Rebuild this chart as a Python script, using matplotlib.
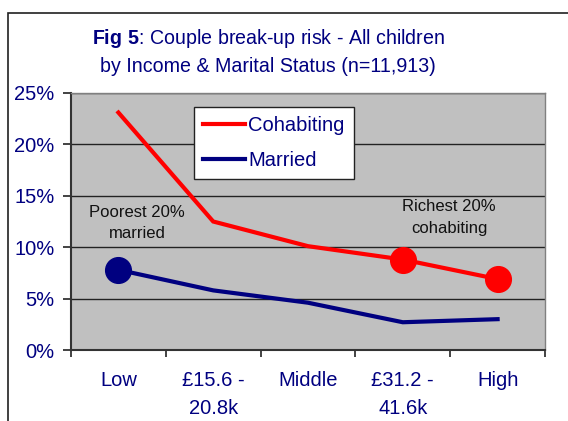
import numpy as np
import matplotlib
matplotlib.use("Agg")
from matplotlib import pyplot as plt
from matplotlib.patches import Rectangle

plt.rcParams['font.family'] = ['Liberation Sans', 'DejaVu Sans']
plt.rcParams['mathtext.fontset'] = 'custom'
plt.rcParams['mathtext.bf'] = 'Liberation Sans:bold'
plt.rcParams['mathtext.rm'] = 'Liberation Sans'

categories = ["Low", "£15.6 -\n20.8k", "Middle", "£31.2 -\n41.6k", "High"]
cohabiting = [23.1, 12.5, 10.1, 8.8, 6.9]
married = [7.8, 5.8, 4.6, 2.7, 3.0]
y_ticks = [0, 5, 10, 15, 20, 25]

navy = "#000080"
red = "#FF0000"

fig = plt.figure(figsize=(5.68, 4.21), dpi=100)
fig.patch.set_facecolor("white")

# outer chart frame
fig.add_artist(Rectangle((8 / 568, -0.05), 1.2, 1 - 13 / 421 + 0.05,
                         transform=fig.transFigure, fill=False,
                         edgecolor="#202020", linewidth=1.2))

ax = fig.add_axes([71 / 568, 1 - 350 / 421, 474 / 568, 257 / 421])
ax.set_facecolor("#C0C0C0")

x = np.arange(len(categories))
ax.plot(x, cohabiting, color=red, linewidth=3, solid_joinstyle="miter", label="Cohabiting", zorder=3)
ax.plot(x, married, color=navy, linewidth=3, solid_joinstyle="miter", label="Married", zorder=3)

# highlighted points
ax.plot(x[0], married[0], "o", color=navy, markersize=18.5, zorder=4)
ax.plot(x[3:], cohabiting[3:], "o", color=red, markersize=18.5, linestyle="none", zorder=4)

ax.text(0.2, 12.4, "Poorest 20%\nmarried", ha="center", va="center", fontsize=12,
        color="#111111", linespacing=1.5)
ax.text(3.49, 12.9, "Richest 20%\ncohabiting", ha="center", va="center", fontsize=12,
        color="#111111", linespacing=1.55)

ax.set_xlim(-0.5, 4.5)
ax.set_ylim(0, 25)
ax.set_yticks(y_ticks)
ax.set_yticklabels(["{0}%".format(v) for v in y_ticks], fontsize=14.5, color=navy)
ax.yaxis.grid(True, color="#222222", linewidth=1)
ax.set_axisbelow(True)

ax.set_xticks(x)
ax.set_xticklabels(categories, fontsize=14.5, color=navy, linespacing=1.6, va="top")
ax.set_xticks(np.arange(-0.5, 5, 1), minor=True)
ax.tick_params(axis="x", which="major", length=0, pad=15)
ax.tick_params(axis="x", which="minor", length=5, width=1.2, color="#222222", direction="out")
ax.tick_params(axis="y", length=6, width=1.2, color="#222222", pad=6)

for side in ["left", "bottom"]:
    ax.spines[side].set_color("#333333")
    ax.spines[side].set_linewidth(1.5)
for side in ["top", "right"]:
    ax.spines[side].set_color("#808080")
    ax.spines[side].set_linewidth(1)

leg = ax.legend(loc="upper left", bbox_to_anchor=(0.259, 0.9455), borderaxespad=0,
                fontsize=14.5, frameon=True, fancybox=False, edgecolor="#222222",
                handlelength=2.1, handletextpad=0.15, labelspacing=0.8,
                borderpad=0.45, framealpha=1)
leg.get_frame().set_linewidth(1)
for t in leg.get_texts():
    t.set_color(navy)

fig.text(268 / 568, 1 - 38 / 421, r"$\bf{Fig\ 5}$: Couple break-up risk - All children",
         ha="center", va="center", fontsize=14.1, color=navy)
fig.text(268 / 568, 1 - 66 / 421, "by Income & Marital Status (n=11,913)",
         ha="center", va="center", fontsize=14.1, color=navy)

fig.savefig("out.png", dpi=100)
